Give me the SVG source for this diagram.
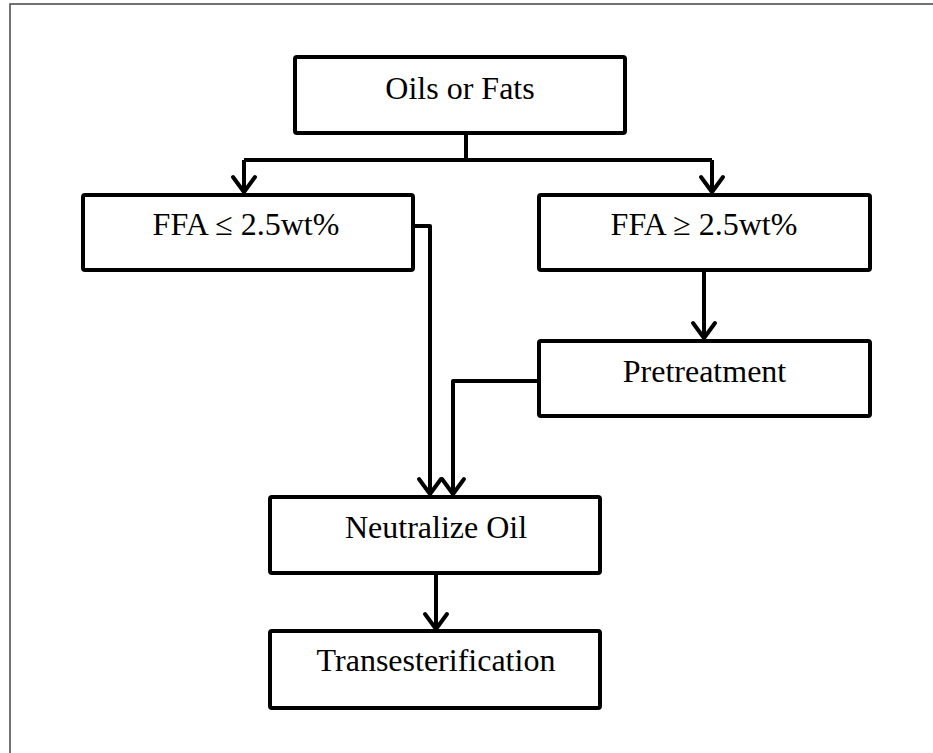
<svg xmlns="http://www.w3.org/2000/svg" width="933" height="753" viewBox="0 0 933 753">
<style>
.box{fill:#fff;stroke:#000;stroke-width:4;stroke-linejoin:round}
.lbl{font-family:"Liberation Serif","Times New Roman",serif;font-size:32px;fill:#000;text-anchor:middle}
.con{fill:none;stroke:#000;stroke-width:4;stroke-linejoin:round}
.arr{marker-end:url(#chev)}
</style>
<defs>
<marker id="chev" markerUnits="userSpaceOnUse" viewBox="-18 -14 22 28" markerWidth="22" markerHeight="28" refX="0" refY="0" orient="auto" overflow="visible">
<path d="M-15,-11 L0,0 L-15,11" fill="none" stroke="#000" stroke-width="4" stroke-linejoin="miter" stroke-linecap="round"/>
</marker>
</defs>
<rect x="0" y="0" width="933" height="753" fill="#fff"/>
<path d="M10,753 V4 H933" fill="none" stroke="#444" stroke-width="1.5"/>
<g id="connectors">
<path class="con" d="M466,133 V160"/>
<path class="con" d="M244,160 H712"/>
<path class="con arr" d="M244,160 V192"/>
<path class="con arr" d="M712,160 V192"/>
<path class="con arr" d="M704,270 V338"/>
<path class="con arr" d="M413,226 H430 V494"/>
<path class="con arr" d="M539,381 H453 V494"/>
<path class="con arr" d="M436,573 V629"/>
</g>
<g id="oils">
<rect class="box" x="295" y="57" width="330" height="76" rx="2"/>
<text class="lbl" x="460" y="99">Oils or Fats</text>
</g>
<g id="ffa-low">
<rect class="box" x="83" y="195" width="330" height="75" rx="2"/>
<text class="lbl" x="246" y="235">FFA ≤ 2.5wt%</text>
</g>
<g id="ffa-high">
<rect class="box" x="539" y="195" width="331" height="75" rx="2"/>
<text class="lbl" x="704" y="235">FFA ≥ 2.5wt%</text>
</g>
<g id="pretreatment">
<rect class="box" x="539" y="341" width="331" height="75" rx="2"/>
<text class="lbl" x="704.5" y="382">Pretreatment</text>
</g>
<g id="neutralize">
<rect class="box" x="270" y="497" width="330" height="76" rx="2"/>
<text class="lbl" x="436" y="538">Neutralize Oil</text>
</g>
<g id="trans">
<rect class="box" x="270" y="631" width="330" height="77" rx="2"/>
<text class="lbl" x="436" y="671">Transesterification</text>
</g>
</svg>
